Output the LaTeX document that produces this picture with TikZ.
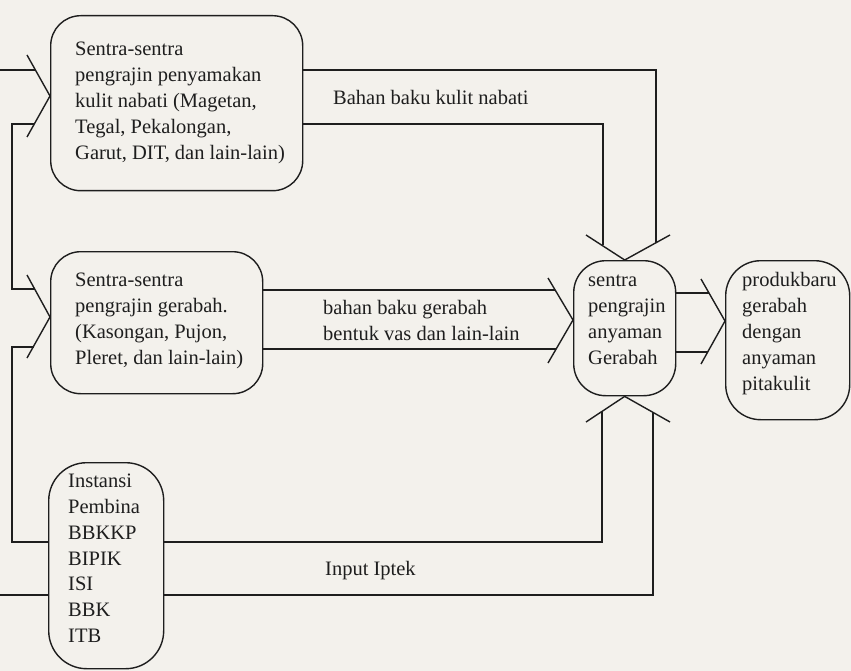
\documentclass[tikz,border=0pt]{standalone}
\usepackage{fontspec}
\setmainfont{Liberation Serif}
\definecolor{paper}{HTML}{F3F1EC}
\definecolor{ink}{HTML}{1E1E1E}
\begin{document}
\begin{tikzpicture}[x=1pt,y=-1pt,
  wall/.style={draw=ink,line width=1.4pt,line join=miter},
  chev/.style={draw=ink,line width=1.4pt,line join=miter},
  box/.style={draw=ink,line width=1.4pt,inner sep=0pt,anchor=north west},
  lbl/.style={inner sep=0pt,anchor=north west,align=left,text=ink,
              font=\fontsize{20.5}{26}\selectfont}]
\useasboundingbox (0,0) rectangle (851,671);
\fill[paper] (0,0) rectangle (851,671);

% boxes
\node[box,rounded corners=30pt,minimum width=252pt,minimum height=175pt] (b1) at (50,15) {};
\node[box,rounded corners=30pt,minimum width=212pt,minimum height=142pt] (b2) at (50,251) {};
\node[box,rounded corners=32pt,minimum width=102pt,minimum height=135pt] (sc) at (573,260) {};
\node[box,rounded corners=35pt,minimum width=124pt,minimum height=159pt] (pr) at (725,260) {};
\node[box,rounded corners=38pt,minimum width=115pt,minimum height=206pt] (ip) at (48,462) {};

% box texts
\node[lbl] (t1) at (75,36.8) {\strut Sentra-sentra\\pengrajin penyamakan\\kulit nabati (Magetan,\\Tegal, Pekalongan,\\Garut, DIT, dan lain-lain)};
\node[lbl] (t2) at (75,267.8) {\strut Sentra-sentra\\pengrajin gerabah.\\(Kasongan, Pujon,\\Pleret, dan lain-lain)};
\node[lbl] (t3) at (588,267.8) {\strut sentra\\pengrajin\\anyaman\\Gerabah};
\node[lbl] (t4) at (742,267.8) {\strut produkbaru\\gerabah\\dengan\\anyaman\\pitakulit};
\node[lbl,font=\fontsize{20.5}{25.7}\selectfont] (t5) at (68,469.8) {\strut Instansi\\Pembina\\BBKKP\\BIPIK\\ISI\\BBK\\ITB};

% connector labels
\node[lbl] (l1) at (333,85.8) {\strut Bahan baku kulit nabati};
\node[lbl] (l2) at (323,295.8) {\strut bahan baku gerabah\\bentuk vas dan lain-lain};
\node[lbl] (l3) at (325,556.8) {\strut Input Iptek};

% channel: kulit nabati -> sentra (top)
\coordinate (c1) at (656,70);
\coordinate (c2) at (603,124);
\draw[wall] (b1.east|-c1) -- (c1) -- (656,243);
\draw[wall] (b1.east|-c2) -- (c2) -- (603,244.7);
\draw[chev] (586,235) -- (sc.north) -- (670,235);

% channel: gerabah -> sentra (left)
\coordinate (c3) at (555.1,290);
\coordinate (c4) at (556.1,349);
\draw[wall] (b2.east|-c3) -- (c3);
\draw[wall] (b2.east|-c4) -- (c4);
\draw[chev] (548,278) -- (sc.west|-0,320) -- (548,363);

% sentra -> produk
\coordinate (c5) at (709,293);
\coordinate (c6) at (707.7,352);
\draw[wall] (sc.east|-c5) -- (c5);
\draw[wall] (sc.east|-c6) -- (c6);
\draw[chev] (701,279) -- (pr.west|-0,321) -- (701,364);

% Input Iptek -> sentra (bottom)
\coordinate (c7) at (602,542);
\coordinate (c8) at (653,595);
\draw[wall] (ip.east|-c7) -- (c7) -- (602,412.1);
\draw[wall] (ip.east|-c8) -- (c8) -- (653,411.5);
\draw[chev] (586,422) -- (sc.south) -- (670,422);

% Input Iptek -> left channel -> boxes 1 and 2
\coordinate (d1) at (0,70);
\coordinate (d2) at (12,124);
\coordinate (d3) at (12,289);
\coordinate (d4) at (12,347);
\coordinate (d5) at (12,542);
\coordinate (d6) at (0,595);
\draw[wall] (d1) -- (35.4,70);
\draw[wall] (34.3,124) -- (d2) -- (d3) -- (34.7,289);
\draw[wall] (33.6,347) -- (d4) -- (d5) -- (ip.west|-d5);
\draw[wall] (d6) -- (ip.west|-d6);
\draw[chev] (27,55) -- (b1.west|-0,96) -- (27,137);
\draw[chev] (27,275) -- (b2.west|-0,317) -- (27,358);
\end{tikzpicture}
\end{document}
